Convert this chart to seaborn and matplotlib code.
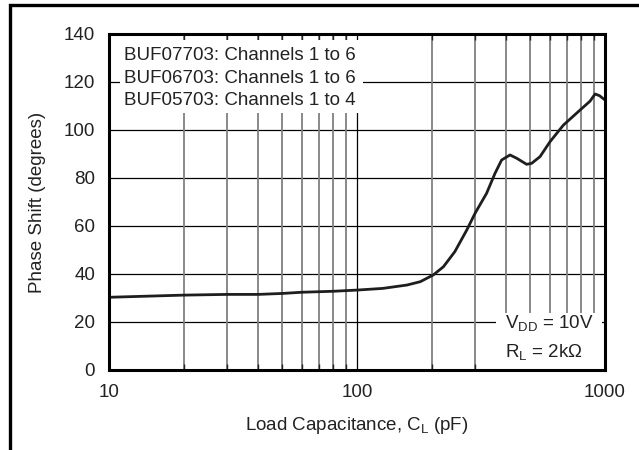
import matplotlib
matplotlib.use("Agg")
import matplotlib.pyplot as plt
from matplotlib.patches import Rectangle
import seaborn as sns
import pandas as pd

# Phase shift versus load capacitance
cap_pf = [10, 20, 30, 40, 50, 60, 80, 100, 127, 159, 180, 203, 223, 248, 277,
          300, 333, 360, 383, 414, 441, 483, 506, 547, 600, 679, 793, 870,
          912, 950, 1000]
phase_deg = [30.3, 31.2, 31.5, 31.5, 31.9, 32.4, 32.8, 33.3, 34.0, 35.4, 36.8,
             39.6, 43.0, 49.3, 58.3, 65.5, 73.6, 81.9, 87.5, 89.6, 88.2, 85.7,
             86.1, 88.9, 95.1, 102.0, 108.3, 112.0, 115.0, 114.3, 112.5]

y_ticks = [0, 20, 40, 60, 80, 100, 120, 140]
x_major = [10, 100, 1000]
x_minor = [20, 30, 40, 50, 60, 70, 80, 90, 200, 300, 400, 500, 600, 700, 800, 900]
x_tick_labels = ["10", "100", "1000"]

device_lines = ["BUF07703: Channels 1 to 6",
                "BUF06703: Channels 1 to 6",
                "BUF05703: Channels 1 to 4"]
conditions = [r"V$_{\mathrm{DD}}$ = 10V", r"R$_{\mathrm{L}}$ = 2k$\Omega$"]

sns.set_style("white")
plt.rcParams["font.family"] = ["Liberation Sans", "DejaVu Sans"]
plt.rcParams["mathtext.fontset"] = "custom"
plt.rcParams["mathtext.rm"] = "Liberation Sans"
plt.rcParams["mathtext.it"] = "Liberation Sans:italic"
plt.rcParams["mathtext.bf"] = "Liberation Sans:bold"

fs = 13.5
fig = plt.figure(figsize=(6.39, 4.5), dpi=100)
ax = fig.add_axes([109 / 639, 80 / 450, 496 / 639, 336 / 450])

df = pd.DataFrame({"cap": cap_pf, "phase": phase_deg})
sns.lineplot(data=df, x="cap", y="phase", ax=ax, color="#1e1e1e",
             linewidth=2.0, zorder=3)

ax.set_xscale("log")
ax.set_xlim(10, 1000)
ax.set_ylim(0, 140)

# grid drawn by hand so the annotation boxes can sit above it
ax.hlines(y_ticks[1:-1], 10, 1000, color="black", linewidth=0.9, zorder=0.5)
ax.vlines(x_minor, 0, 140, color="#808080", linewidth=1.3, zorder=0.5)
ax.vlines([100], 0, 140, color="black", linewidth=0.9, zorder=0.5)

ax.set_xticks(x_major)
ax.set_xticklabels(x_tick_labels)
ax.set_xticks(x_minor, minor=True)
ax.set_xticklabels([], minor=True)
ax.set_yticks(y_ticks)
ax.tick_params(axis="both", which="major", length=0, labelsize=fs, pad=10,
               colors="#222222")
ax.tick_params(axis="x", which="minor", direction="in", length=4, width=1,
               top=True, bottom=True, color="#222222")

for s in ax.spines.values():
    s.set_linewidth(2.2)
    s.set_color("black")
    s.set_zorder(4)

ax.set_xlabel(r"Load Capacitance, C$_{\mathrm{L}}$ (pF)", fontsize=fs,
              color="#222222")
ax.set_ylabel("Phase Shift (degrees)", fontsize=fs, color="#222222")
ax.xaxis.set_label_coords(0.5, -0.135)
ax.yaxis.set_label_coords(-0.128, 0.5)

# device list box (upper left)
ax.add_patch(Rectangle((0.022, 0.765), 0.49, 0.217, transform=ax.transAxes,
                       facecolor="white", edgecolor="none", zorder=1))
for yb, txt in zip([0.923, 0.854, 0.789], device_lines):
    ax.text(0.030, yb, txt, transform=ax.transAxes, fontsize=fs,
            va="baseline", ha="left", color="#222222", zorder=1.5)

# test conditions box (lower right)
ax.add_patch(Rectangle((0.780, 0.0), 0.214, 0.170, transform=ax.transAxes,
                       facecolor="white", edgecolor="none", zorder=1))
for yb, txt in zip([0.125, 0.039], conditions):
    ax.text(0.798, yb, txt, transform=ax.transAxes, fontsize=fs,
            va="baseline", ha="left", color="#222222", zorder=1.5)

# outer frame
fig.patches.append(Rectangle((10 / 639, -0.1), 1.2, 1.1 - 5 / 450,
                             transform=fig.transFigure, fill=False,
                             edgecolor="black", linewidth=2.4, clip_on=False))

fig.savefig("out.png", dpi=100)
